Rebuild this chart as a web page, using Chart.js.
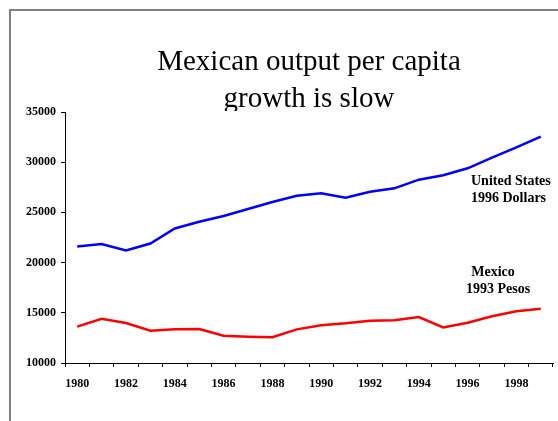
<!DOCTYPE html>
<html>
<head>
<meta charset="utf-8">
<script src="https://cdn.jsdelivr.net/npm/chart.js@4"></script>
<style>
  body { margin: 0; background: #fff; }
  #wrap { position: relative; width: 558px; height: 421px; overflow: hidden; }
  /* cadre gris de la diapo (bords gauche et haut) */
  #frame { position: absolute; left: 9px; top: 9px; width: 600px; height: 500px;
           border-left: 2px solid #808080; border-top: 2px solid #808080; }
  canvas { position: absolute; left: 0; top: 0; }
</style>
</head>
<body>
<div id="wrap">
  <div id="frame"></div>
  <canvas id="outputChart" width="558" height="421"></canvas>
</div>
<script>
// Données : PIB par habitant, 1980-1999
const years = ['1980', '1981', '1982', '1983', '1984', '1985', '1986', '1987', '1988', '1989',
               '1990', '1991', '1992', '1993', '1994', '1995', '1996', '1997', '1998', '1999'];
const usOutput = [21600, 21850, 21200, 21900, 23400, 24070, 24640, 25340, 26040, 26660,
                  26900, 26460, 27060, 27400, 28260, 28700, 29390, 30450, 31480, 32540];
const mexicoOutput = [13620, 14410, 13980, 13220, 13350, 13390, 12720, 12620, 12560, 13350,
                      13750, 13950, 14210, 14250, 14580, 13550, 14010, 14660, 15150, 15410];
const titleLines = ['Mexican output per capita', 'growth is slow'];
const usLabel = ['United States', '1996 Dollars'];
const mexicoLabel = ['Mexico', '1993 Pesos'];

const serif = '"Liberation Serif", "Times New Roman", serif';

// Titre dessiné à la main, coupé au bord haut de la zone du graphique
const titlePlugin = {
    id: 'slideTitle',
    afterDraw(chart) {
        const ctx = chart.ctx;
        ctx.save();
        ctx.beginPath();
        ctx.rect(0, 0, chart.width, chart.chartArea.top - 1);
        ctx.clip();
        ctx.fillStyle = '#000';
        ctx.font = '29px ' + serif;
        ctx.textAlign = 'center';
        ctx.textBaseline = 'alphabetic';
        ctx.fillText(titleLines[0], 309, 70);
        ctx.fillText(titleLines[1], 309, 107);
        ctx.restore();
    }
};

// Étiquettes des séries à côté des courbes
const seriesLabelPlugin = {
    id: 'seriesLabels',
    afterDraw(chart) {
        const ctx = chart.ctx;
        const area = chart.chartArea;
        ctx.save();
        ctx.fillStyle = '#000';
        ctx.font = 'bold 14px ' + serif;
        ctx.textBaseline = 'middle';
        ctx.textAlign = 'left';
        ctx.fillText(usLabel[0], area.right - 82, 181);
        ctx.fillText(usLabel[1], area.right - 82, 198);
        ctx.textAlign = 'center';
        ctx.fillText(mexicoLabel[0], area.right - 60, 272);
        ctx.fillText(mexicoLabel[1], area.right - 55, 289);
        ctx.restore();
    }
};

const tickFont = { family: serif, size: 12, weight: 'bold' };

new Chart(document.getElementById('outputChart'), {
    type: 'line',
    data: {
        labels: years,
        datasets: [{
            label: usLabel.join(' '),
            data: usOutput,
            borderColor: '#0000ff',
            borderWidth: 2.5,
            pointRadius: 0,
            tension: 0
        }, {
            label: mexicoLabel.join(' '),
            data: mexicoOutput,
            borderColor: '#ff0000',
            borderWidth: 2.5,
            pointRadius: 0,
            tension: 0
        }]
    },
    options: {
        responsive: false,
        animation: false,
        layout: { padding: { top: 112, right: 5, left: 0, bottom: 0 } },
        plugins: {
            legend: { display: false },
            title: { display: false },
            tooltip: { enabled: false }
        },
        scales: {
            x: {
                offset: true,
                grid: {
                    offset: true,
                    drawOnChartArea: false,
                    drawTicks: true,
                    tickLength: 4,
                    color: '#000'
                },
                border: { color: '#000', width: 1 },
                ticks: {
                    autoSkip: false,
                    maxRotation: 0,
                    padding: 10,
                    color: '#000',
                    font: tickFont,
                    // une année sur deux
                    callback: function (value, index) {
                        return index % 2 === 0 ? this.getLabelForValue(value) : '';
                    }
                },
                afterFit: function (scale) { scale.height = 58; }
            },
            y: {
                min: 10000,
                max: 35000,
                grid: {
                    drawOnChartArea: false,
                    tickLength: 4,
                    color: '#000'
                },
                border: { color: '#000', width: 1 },
                ticks: {
                    stepSize: 5000,
                    padding: 5,
                    color: '#000',
                    font: tickFont,
                    // pas de séparateur de milliers
                    callback: (value) => String(value)
                },
                afterFit: function (scale) { scale.width = 65; }
            }
        }
    },
    plugins: [titlePlugin, seriesLabelPlugin]
});
</script>
</body>
</html>
